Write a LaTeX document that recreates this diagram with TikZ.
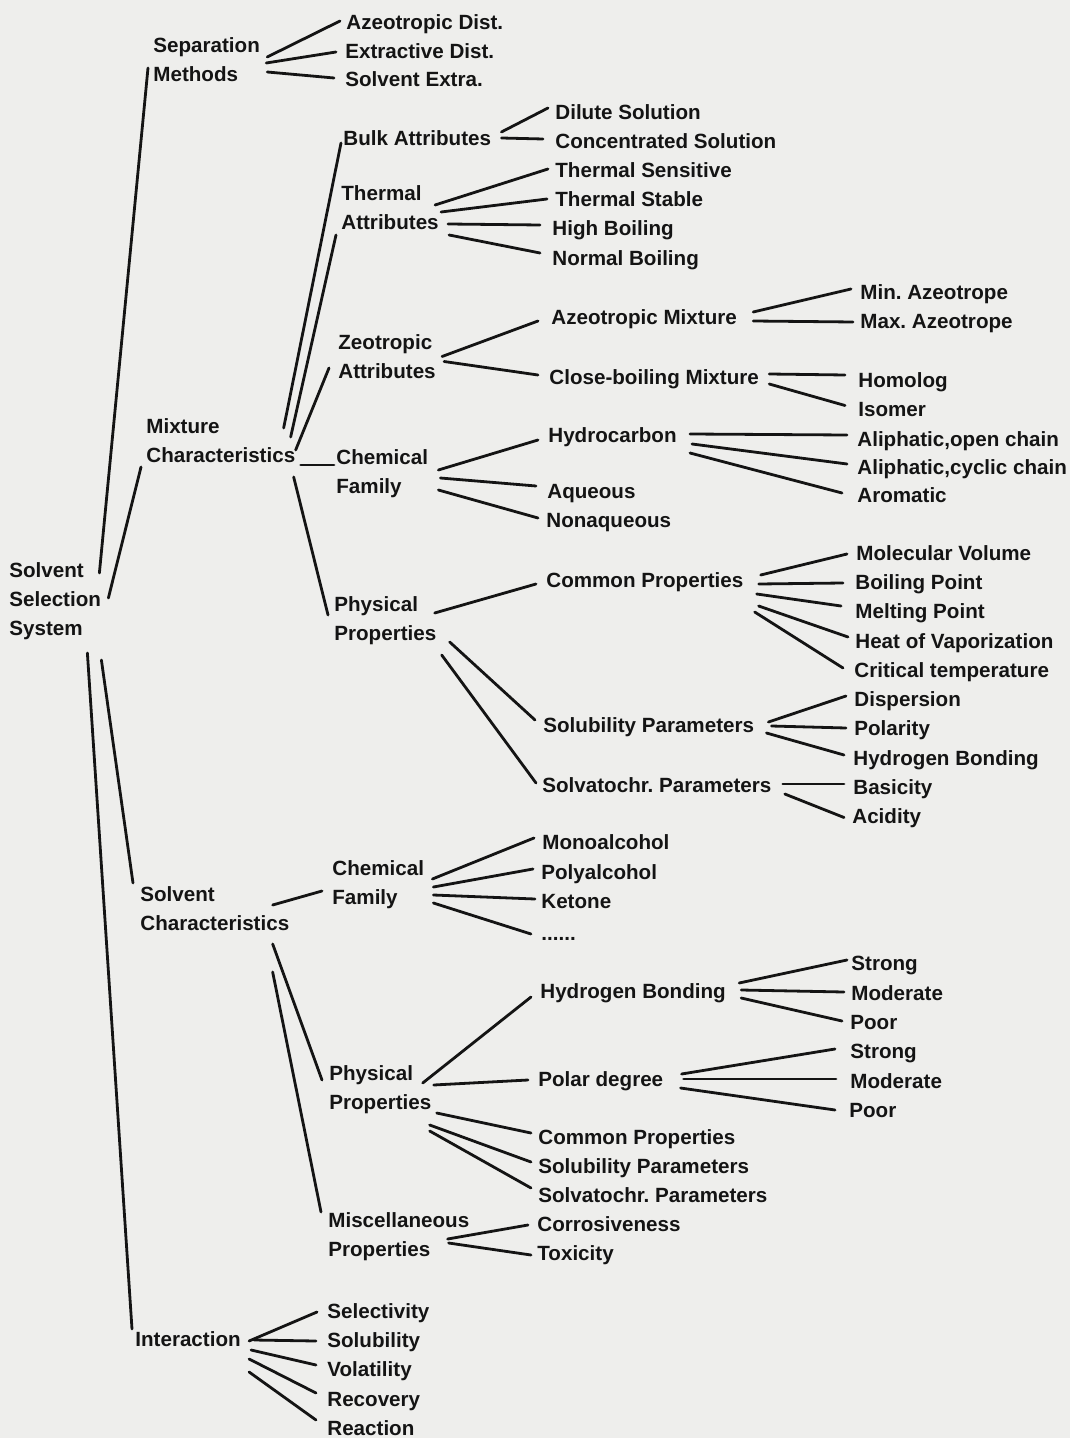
\documentclass[tikz,border=0pt]{standalone}
\usepackage{fontspec}
\setmainfont{Liberation Sans}
\usetikzlibrary{calc}
\definecolor{paper}{RGB}{238,238,236}
\definecolor{ink}{RGB}{20,20,20}
% label font and a fixed strut so every text line has the same box
\newcommand\lbf{\fontsize{10.3}{14.5}\selectfont\bfseries\frenchspacing}
\newcommand\st{\rule[-3.1pt]{0pt}{14.5pt}}
% branch from a parent's right side to a child's left side, with small offsets
\newcommand\lnk[4]{\draw[branch] ($(#1.east)+(#2)$) -- ($(#3.west)+(#4)$);}
\begin{document}
\begin{tikzpicture}[x=0.5pt,y=-0.5pt,
  lbl/.style={anchor=west,inner sep=0pt,align=left,font=\lbf,text=ink,execute at begin node=\st},
  branch/.style={draw=ink,line width=1.4pt,line cap=round}]
\fill[paper] (0,0) rectangle (1070,1438);
\useasboundingbox (0,0) rectangle (1070,1438);

% ---- root and first level
\node[lbl] (root)  at (9,602)   {Solvent\\\st Selection\\\st System};
\node[lbl] (sep)   at (153,63)  {Separation\\\st Methods};
\node[lbl] (mix)   at (146,444) {Mixture\\\st Characteristics};
\node[lbl] (solv)  at (140,912) {Solvent\\\st Characteristics};
\node[lbl] (inter) at (135,1338){Interaction};

% ---- separation methods
\node[lbl] (azd) at (346,21) {Azeotropic Dist.};
\node[lbl] (exd) at (345,50) {Extractive Dist.};
\node[lbl] (sxe) at (345,78) {Solvent Extra.};

% ---- mixture characteristics
\node[lbl] (bulk)  at (343,137)   {Bulk Attributes};
\node[lbl] (therm) at (341,211)   {Thermal\\\st Attributes};
\node[lbl] (zeo)   at (338,359.5) {Zeotropic\\\st Attributes};
\node[lbl] (mcf)   at (336,474.5) {Chemical\\\st Family};
\node[lbl] (mpp)   at (334,621.5) {Physical\\\st Properties};

\node[lbl] (dil)  at (555,111) {Dilute Solution};
\node[lbl] (conc) at (555,140) {Concentrated Solution};
\node[lbl] (tsen) at (555,169) {Thermal Sensitive};
\node[lbl] (tsta) at (555,198) {Thermal Stable};
\node[lbl] (hib)  at (552,227) {High Boiling};
\node[lbl] (nob)  at (552,257) {Normal Boiling};

\node[lbl] (azm)  at (551,316) {Azeotropic Mixture};
\node[lbl] (cbm)  at (549,376) {Close-boiling Mixture};
\node[lbl] (mina) at (860,291) {Min. Azeotrope};
\node[lbl] (maxa) at (860,320) {Max. Azeotrope};
\node[lbl] (homo) at (858,379) {Homolog};
\node[lbl] (iso)  at (858,408) {Isomer};

\node[lbl] (hyd) at (548,434) {Hydrocarbon};
\node[lbl] (aq)  at (547,490) {Aqueous};
\node[lbl] (naq) at (546,519) {Nonaqueous};
\node[lbl] (alo) at (857,438) {Aliphatic,open chain};
\node[lbl] (alc) at (857,466) {Aliphatic,cyclic chain};
\node[lbl] (aro) at (857,494) {Aromatic};

\node[lbl] (cp)  at (546,579) {Common Properties};
\node[lbl] (sp)  at (543,724) {Solubility Parameters};
\node[lbl] (svp) at (542,784) {Solvatochr. Parameters};
\node[lbl] (mv)  at (856,552) {Molecular Volume};
\node[lbl] (bp)  at (855,581) {Boiling Point};
\node[lbl] (mp)  at (855,610) {Melting Point};
\node[lbl] (hv)  at (855,640) {Heat of Vaporization};
\node[lbl] (ct)  at (854,669) {Critical temperature};
\node[lbl] (dis) at (854,698) {Dispersion};
\node[lbl] (pol) at (854,727) {Polarity};
\node[lbl] (hb)  at (853,757) {Hydrogen Bonding};
\node[lbl] (bas) at (853,786) {Basicity};
\node[lbl] (aci) at (852,815) {Acidity};

% ---- solvent characteristics
\node[lbl] (scf) at (332,885.5)  {Chemical\\\st Family};
\node[lbl] (spp) at (329,1090.5) {Physical\\\st Properties};
\node[lbl] (smp) at (328,1237.5) {Miscellaneous\\\st Properties};

\node[lbl] (mono) at (542,841) {Monoalcohol};
\node[lbl] (poly) at (541,871) {Polyalcohol};
\node[lbl] (ket)  at (541,900) {Ketone};
\node[lbl] (dots) at (541,932) {......};

\node[lbl] (shb)  at (540,990)  {Hydrogen Bonding};
\node[lbl] (pdeg) at (538,1078) {Polar degree};
\node[lbl] (scp)  at (538,1136) {Common Properties};
\node[lbl] (ssp)  at (538,1165) {Solubility Parameters};
\node[lbl] (ssv)  at (538,1194) {Solvatochr. Parameters};
\node[lbl] (cor)  at (537,1223) {Corrosiveness};
\node[lbl] (tox)  at (537,1252) {Toxicity};

\node[lbl] (st1) at (851,962)  {Strong};
\node[lbl] (mo1) at (851,992)  {Moderate};
\node[lbl] (po1) at (850,1021) {Poor};
\node[lbl] (st2) at (850,1050) {Strong};
\node[lbl] (mo2) at (850,1080) {Moderate};
\node[lbl] (po2) at (849,1109) {Poor};

% ---- interaction
\node[lbl] (sel) at (327,1310) {Selectivity};
\node[lbl] (sol) at (327,1339) {Solubility};
\node[lbl] (vol) at (327,1368) {Volatility};
\node[lbl] (rec) at (327,1398) {Recovery};
\node[lbl] (rea) at (327,1427) {Reaction};

% ---- branches
\lnk{root}{-2,-29}{sep}{-5,5}
\lnk{root}{7,-4}{mix}{-5,23}
\lnk{root}{0,58}{solv}{-7,-29}
\lnk{root}{-14,51}{inter}{-3,-9}

\lnk{sep}{7,-6}{azd}{-6,0}
\lnk{sep}{6,0}{exd}{-9,2}
\lnk{sep}{7,9}{sxe}{-11,0}

\lnk{mix}{-12,-16}{bulk}{-2,6}
\lnk{mix}{-5,-7}{therm}{-5,24}
\lnk{mix}{0,6}{zeo}{-9,8.5}
\lnk{mix}{5,21}{mcf}{-2,-9.5}
\lnk{mix}{-2,33}{mpp}{-6,-6.5}

\lnk{bulk}{10,-5}{dil}{-7,-3}
\lnk{bulk}{10,1}{conc}{-12,-1}
\lnk{therm}{-4,-6}{tsen}{-7,0}
\lnk{therm}{2,1}{tsta}{-8,1}
\lnk{therm}{9,13}{hib}{-12,-2}
\lnk{therm}{10,24}{nob}{-12,-4}
\lnk{zeo}{6,-3}{azm}{-13,5}
\lnk{zeo}{8,2}{cbm}{-11,-1}
\lnk{azm}{16,-4}{mina}{-9,-2}
\lnk{azm}{16,5}{maxa}{-7,2}
\lnk{cbm}{10,-2}{homo}{-13,-4}
\lnk{cbm}{10,8}{iso}{-13,-2.5}
\lnk{mcf}{10,-4.5}{hyd}{-10,6}
\lnk{mcf}{12,3.5}{aq}{-11,-4}
\lnk{mcf}{10,15.5}{naq}{-8,-1}
\lnk{hyd}{13,0}{alo}{-10,-3}
\lnk{hyd}{15,10}{alc}{-10,-2}
\lnk{hyd}{13,19}{aro}{-15,-1}
\lnk{mpp}{-2,-8.5}{cp}{-10,5}
\lnk{mpp}{13,20.5}{sp}{-8,-4}
\lnk{mpp}{5,33.5}{svp}{-6,-1}
\lnk{cp}{17,-4}{mv}{-9,2}
\lnk{cp}{15,5}{bp}{-12,2}
\lnk{cp}{13,15}{mp}{-14,-4}
\lnk{cp}{15,27}{hv}{-7,-3}
\lnk{cp}{11,33}{ct}{-11,-1}
\lnk{sp}{14,-2}{dis}{-8,-2}
\lnk{sp}{17,2}{pol}{-8,1}
\lnk{sp}{12,9}{hb}{-9,-2}
\lnk{svp}{11,0}{bas}{-9,-2}
\lnk{svp}{13,10}{aci}{-8,2.5}

\lnk{solv}{-17,-7}{scf}{-10,5.5}
\lnk{solv}{-17,32}{spp}{-7,-10.5}
\lnk{solv}{-17,60}{smp}{-7,-25.5}
\lnk{scf}{8,-6.5}{mono}{-8,-3}
\lnk{scf}{9,1.5}{poly}{-8,-2}
\lnk{scf}{9,9.5}{ket}{-6,-1}
\lnk{scf}{9,17.5}{dots}{-10,2}
\lnk{spp}{-9,-7.5}{shb}{-9,7}
\lnk{spp}{2,-5.5}{pdeg}{-10,2}
\lnk{spp}{5,22.5}{scp}{-7,-3}
\lnk{spp}{-2,34.5}{ssp}{-7,-3}
\lnk{spp}{-2,40.5}{ssv}{-7,-6}
\lnk{smp}{-22,1.5}{cor}{-9,2}
\lnk{smp}{-21,5.5}{tox}{-6,3}
\lnk{shb}{13,-7}{st1}{-4,-2}
\lnk{shb}{15,0}{mo1}{-7,0}
\lnk{shb}{15,8}{po1}{-8,0}
\lnk{pdeg}{18,-4}{st2}{-15,-1}
\lnk{pdeg}{20,1}{mo2}{-14,-1}
\lnk{pdeg}{17,10}{po2}{-14,1}

\lnk{inter}{8,3}{sel}{-10,2}
\lnk{inter}{13,2}{sol}{-11,2}
\lnk{inter}{10,12}{vol}{-11,-3}
\lnk{inter}{8,21}{rec}{-11,-5}
\lnk{inter}{8,34}{rea}{-11,-7}
\end{tikzpicture}
\end{document}
